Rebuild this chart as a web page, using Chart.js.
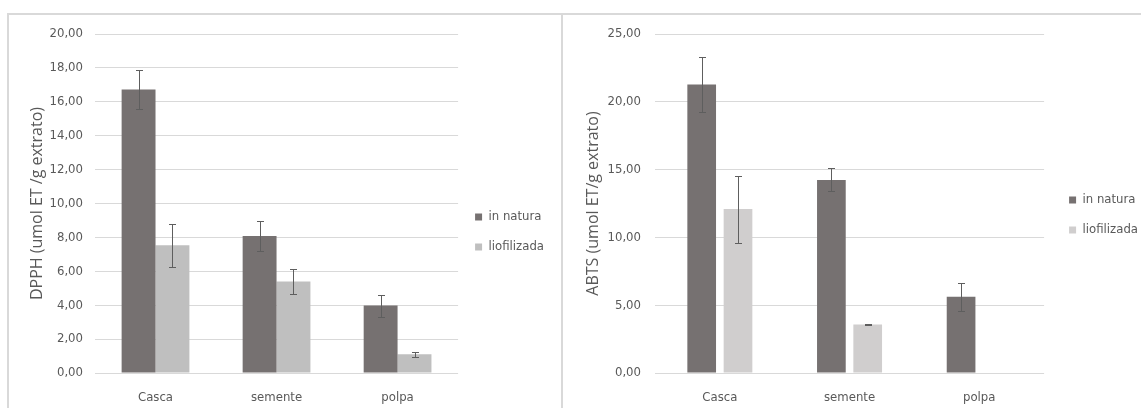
<!DOCTYPE html>
<html>
<head>
<meta charset="utf-8">
<script src="https://cdn.jsdelivr.net/npm/chart.js@4.4.1/dist/chart.umd.min.js"></script>
<style>
  html, body { margin: 0; padding: 0; background: #fff; width: 1141px; height: 408px; overflow: hidden; }
  .panel { position: absolute; box-sizing: border-box; border: 2px solid #d9d9d9; background: #fff; }
  #panelDpph { left: 7px; top: 13px; width: 556px; height: 430px; }
  #panelAbts { left: 561px; top: 13px; width: 620px; height: 430px; }
  canvas { position: absolute; }
  #dpph { left: 10px; top: 16px; }
  #abts { left: 564px; top: 16px; }
</style>
</head>
<body>
<div class="panel" id="panelDpph"></div>
<div class="panel" id="panelAbts"></div>
<canvas id="dpph"></canvas>
<canvas id="abts"></canvas>
<script>
// Sample groups and treatments
const categories = ['Casca', 'semente', 'polpa'];
const seriesNames = ['in natura', 'liofilizada'];

// DPPH (umol ET / g extrato): means and standard deviations
const dpphInNatura    = [16.73, 8.08, 3.98];
const dpphInNaturaSd  = [1.14, 0.87, 0.65];
const dpphLiof        = [7.54, 5.40, 1.10];
const dpphLiofSd      = [1.27, 0.72, 0.15];

// ABTS (umol ET / g extrato): means and standard deviations
const abtsInNatura    = [21.28, 14.24, 5.62];
const abtsInNaturaSd  = [2.02, 0.85, 1.02];
const abtsLiof        = [12.09, 3.57, 0];
const abtsLiofSd      = [2.47, 0.03, 0];

// Value axes: [min, max, step]
const dpphAxis = [0, 20, 2];
const abtsAxis = [0, 25, 5];

const TEXT = '#595959';
const GRID = '#d9d9d9';
const DARK = '#767171';
const NARROW = "'DejaVu Sans Condensed', 'Liberation Sans', sans-serif";
const TITLE_FONT = "'Open Sans', 'Liberation Sans', sans-serif";
const TICK_SIZE = 13;
const LEGEND_SIZE = 13;
const LEGEND_PAD = 17;
const LEGEND_BOX = 7;

const fmt = v => Number(v).toFixed(2).replace('.', ',');

// Draws +/- SD whiskers on top of each bar
const errorBars = {
  id: 'errorBars',
  afterDatasetsDraw(chart) {
    const ctx = chart.ctx;
    const y = chart.scales.y;
    chart.data.datasets.forEach((ds, i) => {
      if (!ds.errors) return;
      const meta = chart.getDatasetMeta(i);
      meta.data.forEach((bar, j) => {
        const v = ds.data[j];
        const e = ds.errors[j];
        if (!e) return;
        const top = Math.round(y.getPixelForValue(v + e)) + 0.5;
        const bot = Math.round(y.getPixelForValue(v - e)) + 0.5;
        const x = Math.round(bar.x) + 0.5;
        ctx.save();
        ctx.strokeStyle = '#5e5e5e';
        ctx.lineWidth = 1;
        ctx.beginPath();
        ctx.moveTo(x, top); ctx.lineTo(x, bot);
        ctx.moveTo(x - 3.5, top); ctx.lineTo(x + 3.5, top);
        ctx.moveTo(x - 3.5, bot); ctx.lineTo(x + 3.5, bot);
        ctx.stroke();
        ctx.restore();
      });
    });
  }
};

// Width the right-hand legend column needs (padding + swatch + gap + longest label + inner margin)
function legendWidth() {
  const c = document.createElement('canvas').getContext('2d');
  c.font = LEGEND_SIZE + 'px ' + NARROW;
  const tw = Math.max(...seriesNames.map(s => c.measureText(s).width));
  return LEGEND_PAD + LEGEND_BOX + LEGEND_SIZE / 2 + tw + 10;
}

function buildChart(id, opts) {
  const canvas = document.getElementById(id);
  const width = Math.ceil(opts.plotRight + opts.gap + legendWidth());
  const height = 392;
  canvas.width = width;
  canvas.height = height;
  canvas.style.width = width + 'px';
  canvas.style.height = height + 'px';

  return new Chart(canvas, {
    type: 'bar',
    data: {
      labels: categories,
      datasets: [
        { label: seriesNames[0], data: opts.values[0], errors: opts.errors[0], backgroundColor: DARK,
          categoryPercentage: opts.catPct, barPercentage: opts.barPct },
        { label: seriesNames[1], data: opts.values[1], errors: opts.errors[1], backgroundColor: opts.light,
          categoryPercentage: opts.catPct, barPercentage: opts.barPct }
      ]
    },
    options: {
      responsive: false,
      animation: false,
      devicePixelRatio: 1,
      layout: { padding: { top: 18, right: 0, bottom: 0, left: 0 } },
      plugins: {
        tooltip: { enabled: false },
        legend: {
          position: 'right',
          align: 'start',
          title: { display: true, text: '', font: { size: 10 }, padding: { top: opts.legendOffset, bottom: 0 } },
          labels: {
            boxWidth: LEGEND_BOX, boxHeight: LEGEND_BOX, padding: LEGEND_PAD,
            color: TEXT, font: { family: NARROW, size: LEGEND_SIZE }
          }
        }
      },
      scales: {
        x: {
          grid: { display: false },
          border: { display: false },
          ticks: { color: TEXT, font: { family: NARROW, size: TICK_SIZE }, padding: 9 },
          afterFit: s => { s.height = height - 357; }
        },
        y: {
          min: opts.axis[0], max: opts.axis[1],
          ticks: { stepSize: opts.axis[2], color: TEXT, font: { family: NARROW, size: TICK_SIZE },
                   padding: opts.tickPad, callback: v => fmt(v) },
          grid: { color: GRID, lineWidth: 1, drawTicks: false },
          border: { display: false },
          title: { display: true, text: opts.title, color: TEXT,
                   font: { family: TITLE_FONT, size: 16 }, padding: { top: opts.titlePad, bottom: 0 } },
          afterFit: s => { s.width = opts.axisWidth; s.paddingTop = 0; s.paddingBottom = 0; }
        },
        gap: {
          position: 'right',
          display: opts.gap > 0,
          grid: { display: false },
          border: { display: false },
          ticks: { display: false },
          afterFit: s => { s.width = opts.gap; s.paddingTop = 0; s.paddingBottom = 0; }
        }
      }
    },
    plugins: [errorBars]
  });
}

buildChart('dpph', {
  values: [dpphInNatura, dpphLiof],
  errors: [dpphInNaturaSd, dpphLiofSd],
  light: '#bfbfbf',
  axis: dpphAxis,
  title: 'DPPH (umol ET /g extrato)',
  axisWidth: 85, tickPad: 12, titlePad: 17.5,
  plotRight: 448, gap: 0,
  catPct: 0.56, barPct: 1.0,
  legendOffset: 147.5
});

buildChart('abts', {
  values: [abtsInNatura, abtsLiof],
  errors: [abtsInNaturaSd, abtsLiofSd],
  light: '#d0cece',
  axis: abtsAxis,
  title: 'ABTS (umol ET/g extrato)',
  axisWidth: 91, tickPad: 14, titlePad: 19.5,
  plotRight: 480, gap: 8,
  catPct: 0.56, barPct: 0.79,
  legendOffset: 130.5
});
</script>
</body>
</html>
